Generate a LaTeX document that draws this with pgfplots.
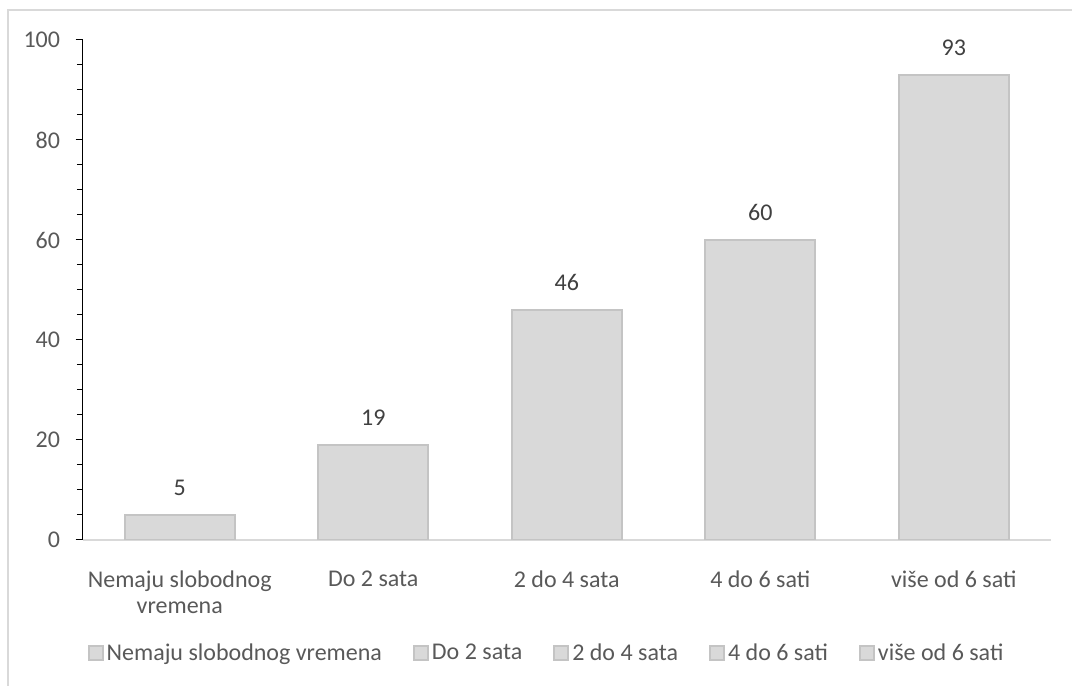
\documentclass[border=0pt]{standalone}
\usepackage{pgfplots}
\pgfplotsset{compat=1.18}
\usepackage{fontspec}
\setmainfont{Carlito}
\definecolor{barfill}{HTML}{D9D9D9}
\definecolor{barline}{HTML}{C4C4C4}
\definecolor{txt}{HTML}{595959}
\definecolor{lbl}{HTML}{404040}
\definecolor{frame}{HTML}{D9D9D9}
\newcommand{\cf}{\fontsize{18pt}{19.5pt}\selectfont}

\begin{document}
\begin{tikzpicture}
\useasboundingbox (0pt,0pt) rectangle (804pt,514.5pt);
\draw[frame, line width=1.5pt] (6pt,-15pt) -- (6pt,507pt) -- (820pt,507pt);
\begin{axis}[
  at={(62.25pt,109.5pt)}, anchor=south west,
  scale only axis, width=725.625pt, height=375pt,
  xmin=-0.5, xmax=4.5, ymin=0, ymax=100,
  /pgf/number format/assume math mode=true,
  ybar, bar width=82.5pt, bar shift=0pt,
  axis lines=left,
  x axis line style={draw=frame, line width=1pt, -},
  y axis line style={draw=black, line width=0.75pt, -},
  xtick={0,...,4},
  xticklabels={{Nemaju slobodnog\\vremena}, Do 2 sata, 2 do 4 sata, 4 do 6 sati, više od 6 sati},
  xtick style={draw=none},
  xticklabel style={font=\cf, text=txt, align=center, anchor=north, inner sep=0pt, yshift=-17.25pt},
  ytick={0,20,...,100},
  minor ytick={0,5,...,100},
  tick align=outside,
  major tick length=5.5pt, minor tick length=4.5pt,
  ytick style={draw=black, line width=0.75pt},
  minor tick style={draw=black, line width=0.75pt},
  yticklabel style={font=\cf, text=txt, anchor=east, inner sep=0pt, xshift=-11.5pt},
  nodes near coords,
  every node near coord/.append style={font=\cf, text=lbl, anchor=south, inner sep=0pt, yshift=13.5pt},
  legend columns=5,
  area legend,
  legend image code/.code={\draw[#1] (0pt,-5.25pt) rectangle (10.5pt,5.25pt);},
  legend style={at={(0.4796,-0.226)}, anchor=center, draw=none, fill=none,
    font=\cf, text=txt, inner sep=0pt,
    nodes={inner xsep=2.25pt, inner ysep=0pt},
    /tikz/every even column/.append style={column sep=21pt}},
]
\addplot[fill=barfill, draw=barline, line width=1.5pt] coordinates {(0,5)};
\addlegendentry{Nemaju slobodnog vremena}
\addplot[fill=barfill, draw=barline, line width=1.5pt] coordinates {(1,19)};
\addlegendentry{Do 2 sata}
\addplot[fill=barfill, draw=barline, line width=1.5pt] coordinates {(2,46)};
\addlegendentry{2 do 4 sata}
\addplot[fill=barfill, draw=barline, line width=1.5pt] coordinates {(3,60)};
\addlegendentry{4 do 6 sati}
\addplot[fill=barfill, draw=barline, line width=1.5pt] coordinates {(4,93)};
\addlegendentry{više od 6 sati}
\end{axis}
\end{tikzpicture}
\end{document}
